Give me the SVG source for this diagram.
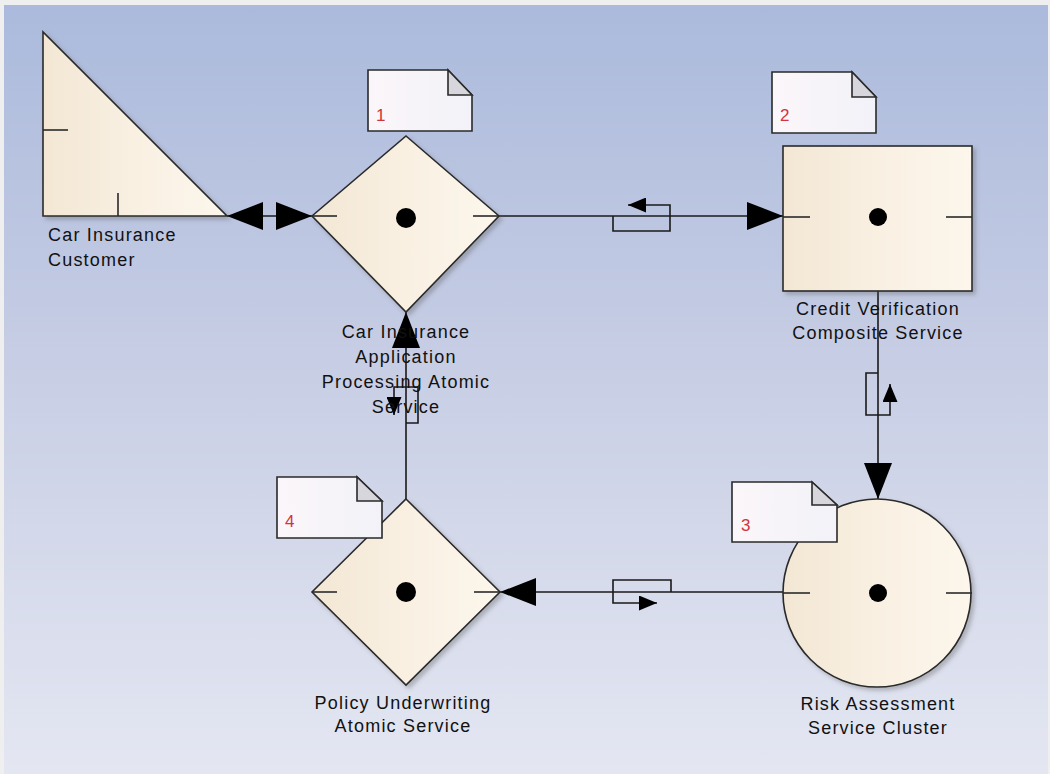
<svg xmlns="http://www.w3.org/2000/svg" width="1050" height="774" viewBox="0 0 1050 774">
<defs>
<linearGradient id="bg" x1="0" y1="0" x2="0" y2="1">
<stop offset="0" stop-color="#abbadc"/>
<stop offset="0.5" stop-color="#c9cfe5"/>
<stop offset="1" stop-color="#e4e7f2"/>
</linearGradient>
<linearGradient id="nodefill" x1="0" y1="0" x2="1" y2="0">
<stop offset="0" stop-color="#f3e7d4"/>
<stop offset="0.5" stop-color="#f9f0e2"/>
<stop offset="1" stop-color="#fcf6ec"/>
</linearGradient>
<linearGradient id="notefill" x1="0" y1="0" x2="1" y2="0">
<stop offset="0" stop-color="#fbf6fa"/>
<stop offset="1" stop-color="#f2f2f8"/>
</linearGradient>
<filter id="sh" x="-10%" y="-10%" width="130%" height="130%">
<feDropShadow dx="3" dy="3" stdDeviation="2" flood-color="#555" flood-opacity="0.35"/>
</filter>
<marker id="big" markerUnits="userSpaceOnUse" markerWidth="36" markerHeight="28" viewBox="0 0 36 28" refX="36" refY="14" orient="auto-start-reverse">
<path d="M0,0 L36,14 L0,28 z" fill="#000"/>
</marker>
<marker id="small" markerUnits="userSpaceOnUse" markerWidth="18" markerHeight="15" viewBox="0 0 18 15" refX="18" refY="7.5" orient="auto">
<path d="M0,0 L18,7.5 L0,15 z" fill="#000"/>
</marker>
</defs>
<style>
.shape{fill:url(#nodefill);stroke:#2a2a2a;stroke-width:1.6;filter:url(#sh)}
.tick{stroke:#2a2a2a;stroke-width:1.6}
.dot{fill:#000}
.note{fill:url(#notefill);stroke:#2a2a2a;stroke-width:1.6}
.fold{fill:#d7d6dc;stroke:#2a2a2a;stroke-width:1.6}
.num{font-family:"Liberation Sans",Arial,sans-serif;font-size:17px;fill:#d0343c}
.lbl{font-family:"Liberation Sans",Arial,sans-serif;font-size:18px;fill:#111;letter-spacing:1.2px}
.conn{stroke:#1a1a1a;stroke-width:1.6;fill:none}
.msg{stroke:#1a1a1a;stroke-width:1.6;fill:none}
</style>
<rect x="0" y="0" width="1050" height="774" fill="#efefef"/>
<rect x="4" y="5" width="1044" height="769" fill="url(#bg)"/>

<g id="connectors">
<line class="conn" x1="227" y1="216" x2="312" y2="216" marker-start="url(#big)" marker-end="url(#big)"/>
<line class="conn" x1="499" y1="216" x2="783" y2="216" marker-end="url(#big)"/>
<path class="msg" d="M613,216 V231 H670 V205 H628" marker-end="url(#small)"/>
<line class="conn" x1="878" y1="291" x2="878" y2="499" marker-end="url(#big)"/>
<path class="msg" d="M878,373 H866 V415 H890 V384" marker-end="url(#small)"/>
<line class="conn" x1="783" y1="592" x2="500" y2="592" marker-end="url(#big)"/>
<path class="msg" d="M671,592 V580 H613 V603 H657" marker-end="url(#small)"/>
<line class="conn" x1="406" y1="499" x2="406" y2="312" marker-end="url(#big)"/>
<path class="msg" d="M406,423 H418 V387 H394 V415" marker-end="url(#small)"/>
</g>

<g id="customer">
<path class="shape" d="M43,32 L43,216 L227,216 Z"/>
<line class="tick" x1="43" y1="130" x2="68" y2="130"/>
<line class="tick" x1="118" y1="193" x2="118" y2="216"/>
<text class="lbl" x="48" y="241">Car Insurance</text>
<text class="lbl" x="48" y="266">Customer</text>
</g>

<g id="app-processing">
<path class="shape" d="M406,136 L499,216 L406,312 L312,216 Z"/>
<line class="tick" x1="312" y1="216" x2="337" y2="216"/>
<line class="tick" x1="473" y1="216" x2="499" y2="216"/>
<circle class="dot" cx="406" cy="218" r="10"/>
<text class="lbl" x="406" y="338" text-anchor="middle">Car Insurance</text>
<text class="lbl" x="406" y="363" text-anchor="middle">Application</text>
<text class="lbl" x="406" y="388" text-anchor="middle">Processing Atomic</text>
<text class="lbl" x="406" y="413" text-anchor="middle">Service</text>
</g>

<g id="note1">
<path class="note" d="M368,70 H448 L472,95 V131 H368 Z"/>
<path class="fold" d="M448,70 V95 H472 Z"/>
<text class="num" x="376" y="121">1</text>
</g>

<g id="credit-verification">
<rect class="shape" x="783" y="146" width="189" height="145"/>
<line class="tick" x1="783" y1="217" x2="810" y2="217"/>
<line class="tick" x1="946" y1="217" x2="972" y2="217"/>
<circle class="dot" cx="878" cy="217" r="9"/>
<text class="lbl" x="878" y="315" text-anchor="middle">Credit Verification</text>
<text class="lbl" x="878" y="339" text-anchor="middle">Composite Service</text>
</g>

<g id="note2">
<path class="note" d="M772,72 H852 L876,97 V133 H772 Z"/>
<path class="fold" d="M852,72 V97 H876 Z"/>
<text class="num" x="780" y="121">2</text>
</g>

<g id="risk-assessment">
<circle class="shape" cx="877" cy="593" r="94"/>
<line class="tick" x1="783" y1="593" x2="810" y2="593"/>
<line class="tick" x1="946" y1="593" x2="972" y2="593"/>
<circle class="dot" cx="878" cy="593" r="9"/>
<text class="lbl" x="878" y="710" text-anchor="middle">Risk Assessment</text>
<text class="lbl" x="878" y="734" text-anchor="middle">Service Cluster</text>
</g>

<g id="note3">
<path class="note" d="M732,482 H812 L837,505 V542 H732 Z"/>
<path class="fold" d="M812,482 V505 H837 Z"/>
<text class="num" x="741" y="531">3</text>
</g>

<g id="policy-underwriting">
<path class="shape" d="M406,499 L500,592 L406,685 L312,592 Z"/>
<line class="tick" x1="312" y1="592" x2="337" y2="592"/>
<line class="tick" x1="474" y1="592" x2="500" y2="592"/>
<circle class="dot" cx="406" cy="592" r="10"/>
<text class="lbl" x="403" y="709" text-anchor="middle">Policy Underwriting</text>
<text class="lbl" x="403" y="732" text-anchor="middle">Atomic Service</text>
</g>

<g id="note4">
<path class="note" d="M277,477 H357 L382,501 V538 H277 Z"/>
<path class="fold" d="M357,477 V501 H382 Z"/>
<text class="num" x="285" y="527">4</text>
</g>
</svg>
